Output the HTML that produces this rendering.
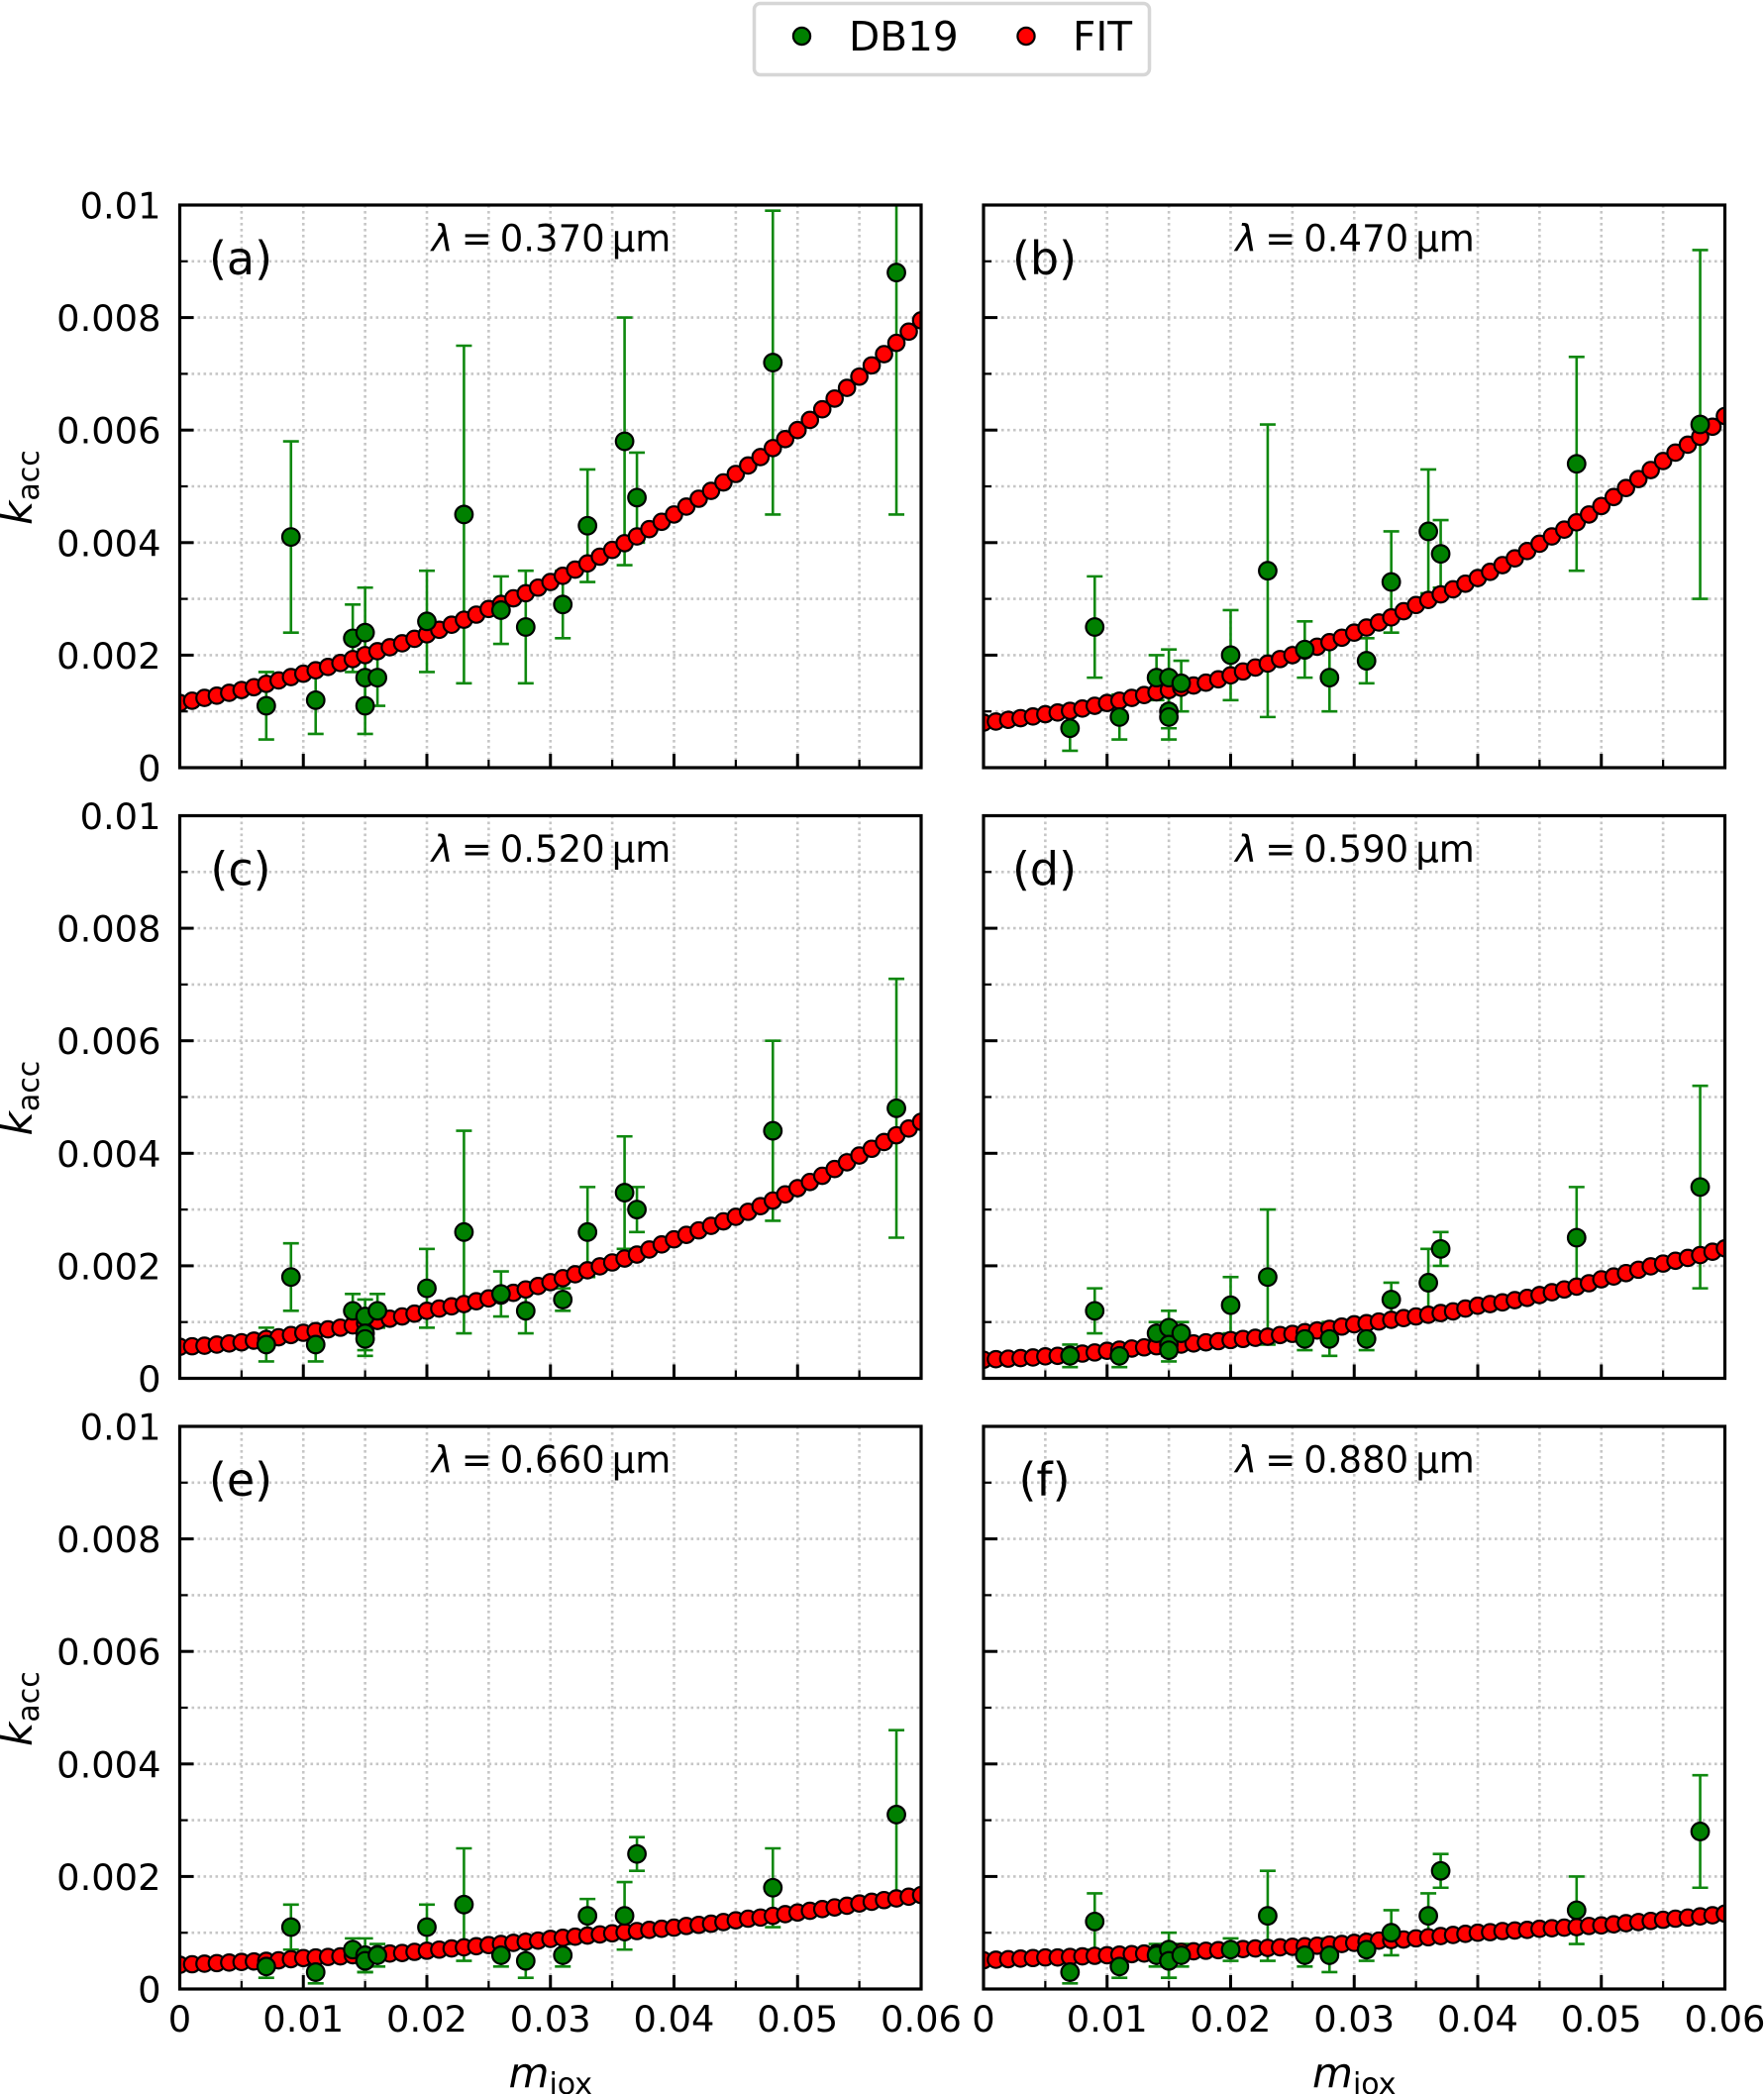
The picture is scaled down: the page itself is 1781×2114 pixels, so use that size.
<!DOCTYPE html>
<html lang="en">
<head>
<meta charset="utf-8">
<title>k_acc versus m_iox at six wavelengths</title>
<style>
html,body{margin:0;padding:0;background:#fff;}
body{width:1781px;height:2114px;overflow:hidden;}
svg{display:block;font-family:"DejaVu Sans","Liberation Sans",sans-serif;fill:#000;}
</style>
</head>
<body>
<svg id="chart" xmlns="http://www.w3.org/2000/svg" width="1781" height="2114" viewBox="0 0 1781 2114">
  <defs id="defs"></defs>
  <g>
    <rect x="761.5" y="3.5" width="399" height="72" rx="6" ry="6" fill="#fff" stroke="#d6d6d6" stroke-width="3.5"></rect>
    <circle cx="809.5" cy="36.5" r="8.6" fill="#008000" stroke="#000" stroke-width="2.2"></circle>
    <text x="857" y="51" font-size="40.6">DB19</text>
    <circle cx="1036" cy="36.5" r="8.6" fill="#ff0000" stroke="#000" stroke-width="2.2"></circle>
    <text x="1083" y="51" font-size="40.6">FIT</text>
  </g>
</svg>
<script>
// Shared sample positions (iron-oxide mass fraction)
const dbX = [0.007,0.009,0.011,0.014,0.015,0.015,0.015,0.016,0.020,0.023,0.026,0.028,0.031,0.033,0.036,0.037,0.048,0.058];
const fitX = [0,0.001,0.002,0.003,0.004,0.005,0.006,0.007,0.008,0.009,0.010,0.011,0.012,0.013,0.014,0.015,0.016,0.017,0.018,0.019,0.020,0.021,0.022,0.023,0.024,0.025,0.026,0.027,0.028,0.029,0.030,0.031,0.032,0.033,0.034,0.035,0.036,0.037,0.038,0.039,0.040,0.041,0.042,0.043,0.044,0.045,0.046,0.047,0.048,0.049,0.050,0.051,0.052,0.053,0.054,0.055,0.056,0.057,0.058,0.059,0.060];

// Values below are in units of 1e-3
const dbA = [1.1,4.1,1.2,2.3,2.4,1.6,1.1,1.6,2.6,4.5,2.8,2.5,2.9,4.3,5.8,4.8,7.2,8.8];
const loA = [0.5,2.4,0.6,1.7,1.6,1.1,0.6,1.1,1.7,1.5,2.2,1.5,2.3,3.3,3.6,4.0,4.5,4.5];
const hiA = [1.7,5.8,1.8,2.9,3.2,2.1,1.6,2.1,3.5,7.5,3.4,3.5,3.5,5.3,8.0,5.6,9.9,13.1];
const fitA = [1.15,1.19,1.24,1.28,1.33,1.38,1.43,1.49,1.55,1.61,1.67,1.73,1.79,1.86,1.93,2.00,2.07,2.14,2.21,2.29,2.37,2.45,2.54,2.63,2.72,2.82,2.91,3.01,3.10,3.20,3.30,3.41,3.52,3.63,3.75,3.87,3.99,4.11,4.24,4.37,4.50,4.64,4.78,4.92,5.07,5.22,5.37,5.52,5.68,5.84,6.00,6.18,6.37,6.56,6.75,6.95,7.15,7.35,7.55,7.75,7.95];

const dbB = [0.7,2.5,0.9,1.6,1.6,1.0,0.9,1.5,2.0,3.5,2.1,1.6,1.9,3.3,4.2,3.8,5.4,6.1];
const loB = [0.3,1.6,0.5,1.2,1.1,0.7,0.5,1.0,1.2,0.9,1.6,1.0,1.5,2.4,3.1,3.2,3.5,3.0];
const hiB = [1.1,3.4,1.3,2.0,2.1,1.3,1.3,1.9,2.8,6.1,2.6,2.2,2.3,4.2,5.3,4.4,7.3,9.2];
const fitB = [0.80,0.82,0.85,0.88,0.91,0.95,0.98,1.01,1.05,1.10,1.15,1.19,1.24,1.29,1.34,1.38,1.42,1.46,1.51,1.57,1.64,1.71,1.78,1.85,1.93,2.00,2.08,2.15,2.23,2.31,2.40,2.49,2.58,2.67,2.78,2.89,2.98,3.08,3.17,3.27,3.37,3.48,3.60,3.72,3.85,3.98,4.11,4.23,4.36,4.50,4.65,4.81,4.97,5.13,5.29,5.45,5.60,5.74,5.88,6.06,6.25];

const dbC = [0.6,1.8,0.6,1.2,1.1,0.8,0.7,1.2,1.6,2.6,1.5,1.2,1.4,2.6,3.3,3.0,4.4,4.8];
const loC = [0.3,1.2,0.3,0.9,0.8,0.5,0.4,0.9,0.9,0.8,1.1,0.8,1.2,1.8,2.3,2.6,2.8,2.5];
const hiC = [0.9,2.4,0.9,1.5,1.4,1.1,1.0,1.5,2.3,4.4,1.9,1.6,1.6,3.4,4.3,3.4,6.0,7.1];
const fitC = [0.56,0.57,0.58,0.60,0.62,0.64,0.67,0.70,0.73,0.77,0.81,0.84,0.87,0.90,0.94,0.98,1.02,1.06,1.10,1.15,1.20,1.24,1.28,1.32,1.37,1.42,1.47,1.52,1.58,1.64,1.71,1.78,1.85,1.92,1.99,2.06,2.13,2.20,2.29,2.38,2.47,2.55,2.63,2.71,2.79,2.87,2.96,3.06,3.16,3.27,3.38,3.49,3.60,3.72,3.84,3.96,4.08,4.20,4.32,4.44,4.56];

const dbD = [0.4,1.2,0.4,0.8,0.9,0.6,0.5,0.8,1.3,1.8,0.7,0.7,0.7,1.4,1.7,2.3,2.5,3.4];
const loD = [0.2,0.8,0.2,0.6,0.6,0.4,0.3,0.6,0.8,0.6,0.5,0.4,0.5,1.1,1.1,2.0,1.6,1.6];
const hiD = [0.6,1.6,0.6,1.0,1.2,0.8,0.7,1.0,1.8,3.0,0.9,1.0,0.9,1.7,2.3,2.6,3.4,5.2];
const fitD = [0.33,0.34,0.35,0.36,0.37,0.39,0.40,0.42,0.44,0.46,0.49,0.51,0.53,0.55,0.57,0.59,0.60,0.62,0.64,0.66,0.68,0.70,0.72,0.74,0.77,0.79,0.82,0.85,0.88,0.92,0.96,0.98,1.01,1.04,1.07,1.10,1.13,1.16,1.19,1.24,1.29,1.32,1.35,1.39,1.43,1.48,1.53,1.58,1.63,1.69,1.76,1.81,1.87,1.93,1.99,2.04,2.09,2.14,2.19,2.25,2.31];

const dbE = [0.4,1.1,0.3,0.7,0.6,0.5,0.5,0.6,1.1,1.5,0.6,0.5,0.6,1.3,1.3,2.4,1.8,3.1];
const loE = [0.2,0.7,0.1,0.5,0.3,0.3,0.3,0.4,0.7,0.5,0.4,0.2,0.4,1.0,0.7,2.1,1.1,1.6];
const hiE = [0.6,1.5,0.5,0.9,0.9,0.7,0.7,0.8,1.5,2.5,0.8,0.8,0.8,1.6,1.9,2.7,2.5,4.6];
const fitE = [0.43,0.44,0.45,0.46,0.47,0.48,0.49,0.50,0.51,0.53,0.55,0.56,0.57,0.58,0.60,0.61,0.62,0.63,0.64,0.66,0.68,0.70,0.72,0.74,0.76,0.78,0.80,0.82,0.84,0.86,0.89,0.91,0.93,0.95,0.97,0.99,1.01,1.03,1.05,1.07,1.09,1.12,1.14,1.16,1.19,1.22,1.25,1.27,1.30,1.33,1.36,1.39,1.42,1.45,1.48,1.52,1.55,1.58,1.61,1.64,1.67];

const dbF = [0.3,1.2,0.4,0.6,0.7,0.5,0.5,0.6,0.7,1.3,0.6,0.6,0.7,1.0,1.3,2.1,1.4,2.8];
const loF = [0.1,0.7,0.2,0.4,0.4,0.2,0.2,0.4,0.5,0.5,0.4,0.3,0.5,0.6,0.9,1.8,0.8,1.8];
const hiF = [0.5,1.7,0.6,0.8,1.0,0.8,0.8,0.8,0.9,2.1,0.8,0.9,0.9,1.4,1.7,2.4,2.0,3.8];
const fitF = [0.51,0.52,0.53,0.54,0.55,0.56,0.56,0.57,0.58,0.59,0.60,0.61,0.62,0.63,0.64,0.65,0.66,0.67,0.68,0.69,0.70,0.71,0.72,0.73,0.74,0.75,0.76,0.77,0.79,0.80,0.82,0.84,0.86,0.87,0.88,0.90,0.92,0.94,0.96,0.98,1.00,1.01,1.03,1.04,1.05,1.07,1.08,1.09,1.10,1.12,1.13,1.15,1.17,1.19,1.21,1.23,1.25,1.27,1.29,1.31,1.34];

const panelLetters = ['a','b','c','d','e','f'];
const panelLabels = ['(a)','(b)','(c)','(d)','(e)','(f)'];
const wavelengths = ['0.370','0.470','0.520','0.590','0.660','0.880'];

const xMajorTicks = [0,0.01,0.02,0.03,0.04,0.05,0.06];
const xMinorTicks = [0.005,0.015,0.025,0.035,0.045,0.055];
const xTickLabels = ['0','0.01','0.02','0.03','0.04','0.05','0.06'];
const yMajorTicks = [0,0.002,0.004,0.006,0.008,0.01];
const yMinorTicks = [0.001,0.003,0.005,0.007,0.009];
const yTickLabels = ['0','0.002','0.004','0.006','0.008','0.01'];
const xDomain = [0,0.06];
const yDomain = [0,0.01];
const valueUnit = 1e-3;

const dbSeries = [dbA,dbB,dbC,dbD,dbE,dbF];
const loSeries = [loA,loB,loC,loD,loE,loF];
const hiSeries = [hiA,hiB,hiC,hiD,hiE,hiF];
const fitSeries = [fitA,fitB,fitC,fitD,fitE,fitF];

const NS = 'http://www.w3.org/2000/svg';
const root = document.getElementById('chart');
const defs = document.getElementById('defs');
const PANEL_W = 748.5, PANEL_H = 568;
const COL_LEFT = [181.5, 993];
const ROW_TOP = [207, 823.5, 1440];

function make(tag, parent, attrs, text) {
  const node = document.createElementNS(NS, tag);
  for (const key in attrs) node.setAttribute(key, attrs[key]);
  if (text !== undefined) node.textContent = text;
  parent.appendChild(node);
  return node;
}

panelLetters.forEach(function (letter, p) {
  const col = p % 2, row = Math.floor(p / 2);
  const left = COL_LEFT[col], top = ROW_TOP[row];
  const xAt = function (v) { return left + (v - xDomain[0]) / (xDomain[1] - xDomain[0]) * PANEL_W; };
  const yAt = function (v) { return top + PANEL_H - (v - yDomain[0]) / (yDomain[1] - yDomain[0]) * PANEL_H; };
  const bottom = top + PANEL_H, right = left + PANEL_W;

  const panel = make('g', root, {});
  
  

  const clip = make('clipPath', defs, { id: 'clip-' + letter });
  make('rect', clip, { x: left, y: top, width: PANEL_W, height: PANEL_H });

  // Grid
  const grid = make('g', panel, { stroke: '#c6c6c6', 'stroke-width': 2.6, 'stroke-dasharray': '2.6 3.4', fill: 'none' });
  
  
  xMajorTicks.concat(xMinorTicks).forEach(function (v) {
    if (v === xDomain[0] || v === xDomain[1]) return;
    const line = make('line', grid, { x1: xAt(v), x2: xAt(v), y1: top, y2: bottom });
    
    
  });
  yMajorTicks.concat(yMinorTicks).forEach(function (v) {
    if (v === yDomain[0] || v === yDomain[1]) return;
    const line = make('line', grid, { x1: left, x2: right, y1: yAt(v), y2: yAt(v) });
    
    
  });

  // Data layers, clipped to the axes
  const plot = make('g', panel, { 'clip-path': 'url(#clip-' + letter + ')' });
  
  

  const bars = make('g', plot, { stroke: '#0f880f', 'stroke-width': 2.6, fill: 'none' });
  
  
  dbX.forEach(function (x, i) {
    const cx = xAt(x), yLo = yAt(loSeries[p][i] * valueUnit), yHi = yAt(hiSeries[p][i] * valueUnit);
    const stem = make('line', bars, { x1: cx, x2: cx, y1: yLo, y2: yHi });
    
    
    const capLo = make('line', bars, { x1: cx - 8, x2: cx + 8, y1: yLo, y2: yLo });
    
    
    const capHi = make('line', bars, { x1: cx - 8, x2: cx + 8, y1: yHi, y2: yHi });
    
    
  });

  const fitLayer = make('g', plot, { fill: '#ff0000', stroke: '#000', 'stroke-width': 2.2 });
  
  
  fitX.forEach(function (x, i) {
    const dot = make('circle', fitLayer, { cx: xAt(x), cy: yAt(fitSeries[p][i] * valueUnit), r: 8.2 });
    
    
  });

  const dbLayer = make('g', plot, { fill: '#008000', stroke: '#000', 'stroke-width': 2.2 });
  
  
  dbX.forEach(function (x, i) {
    const dot = make('circle', dbLayer, { cx: xAt(x), cy: yAt(dbSeries[p][i] * valueUnit), r: 8.8 });
    
    
  });

  // Ticks
  const ticks = make('g', panel, { stroke: '#000', fill: 'none' });
  
  
  xMajorTicks.forEach(function (v) {
    const t = make('line', ticks, { x1: xAt(v), x2: xAt(v), y1: bottom, y2: bottom - 14, 'stroke-width': 3 });
    
    
  });
  xMinorTicks.forEach(function (v) {
    const t = make('line', ticks, { x1: xAt(v), x2: xAt(v), y1: bottom, y2: bottom - 8, 'stroke-width': 2.2 });
    
    
  });
  yMajorTicks.forEach(function (v) {
    const t = make('line', ticks, { x1: left, x2: left + 14, y1: yAt(v), y2: yAt(v), 'stroke-width': 3 });
    
    
  });
  yMinorTicks.forEach(function (v) {
    const t = make('line', ticks, { x1: left, x2: left + 8, y1: yAt(v), y2: yAt(v), 'stroke-width': 2.2 });
    
    
  });

  // Frame
  const frame = make('rect', panel, { x: left, y: top, width: PANEL_W, height: PANEL_H, fill: 'none', stroke: '#000', 'stroke-width': 3.2 });
  
  

  // Tick labels
  if (col === 0) {
    yMajorTicks.forEach(function (v, i) {
      const label = make('text', panel, { x: 162.5, y: yAt(v) + 13.5, 'font-size': 36.8, 'text-anchor': 'end' }, yTickLabels[i]);
      
      
    });
    const yTitle = make('text', panel, { transform: 'translate(32,' + (top + 323) + ') rotate(-90)', 'font-size': 42 });
    
    
    make('tspan', yTitle, { 'font-style': 'italic' }, 'k');
    make('tspan', yTitle, { dy: 7, 'font-size': 30 }, 'acc');
  }
  if (row === 2) {
    xMajorTicks.forEach(function (v, i) {
      const label = make('text', panel, { x: xAt(v), y: 2051, 'font-size': 36.8, 'text-anchor': 'middle' }, xTickLabels[i]);
      
      
    });
    const xTitle = make('text', panel, { x: left + PANEL_W / 2, y: 2107, 'font-size': 42, 'text-anchor': 'middle' });
    
    
    make('tspan', xTitle, { 'font-style': 'italic' }, 'm');
    make('tspan', xTitle, { dy: 7, 'font-size': 30 }, 'iox');
  }

  // Panel tag
  const tag = make('text', panel, { x: left + 61.5, y: top + 70, 'font-size': 46, 'text-anchor': 'middle' }, panelLabels[p]);
  
  

  // Wavelength annotation
  const cx = left + PANEL_W / 2, base = top + 46.5;
  const note = make('text', panel, { y: base, 'font-size': 37 });
  
  
  make('tspan', note, { x: cx - 120, 'font-style': 'italic' }, 'λ');
  make('tspan', note, { x: cx - 90 }, '=');
  make('tspan', note, { x: cx - 51 }, wavelengths[p]);
  make('tspan', note, { x: cx + 62 }, 'µm');
});
</script>
</body>
</html>
